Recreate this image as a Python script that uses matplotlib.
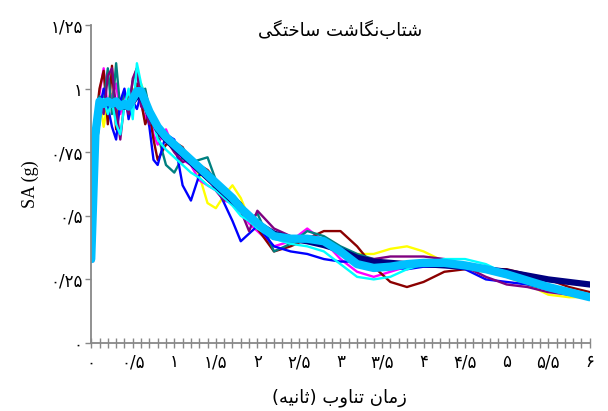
import matplotlib
matplotlib.use("Agg")
import matplotlib.pyplot as plt
from matplotlib.ticker import MultipleLocator, FixedLocator

# ---------------- data ----------------
period = [0, 0.05, 0.1, 0.15, 0.2, 0.25, 0.3, 0.35, 0.4, 0.45, 0.5, 0.55, 0.6, 0.65, 0.7, 0.75, 0.8,
          0.9, 1.0, 1.1, 1.2, 1.3, 1.4, 1.5, 1.6, 1.7, 1.8, 1.9, 2.0,
          2.2, 2.4, 2.6, 2.8, 3.0, 3.2, 3.4, 3.6, 3.8, 4.0,
          4.25, 4.5, 4.75, 5.0, 5.25, 5.5, 5.75, 6.0]

rec_yellow = [0.33, 0.78, 0.96, 0.85, 0.95, 0.98, 0.90, 0.96, 0.92, 0.97, 1.00, 0.96, 1.02, 0.97, 0.93, 0.90, 0.86,
              0.80, 0.79, 0.74, 0.72, 0.66, 0.55, 0.53, 0.58, 0.62, 0.57, 0.49, 0.47,
              0.42, 0.42, 0.41, 0.38, 0.36, 0.35, 0.35, 0.37, 0.38, 0.36,
              0.32, 0.29, 0.28, 0.26, 0.23, 0.19, 0.18, 0.18]
rec_magenta = [0.33, 0.85, 0.98, 1.08, 0.92, 0.97, 1.02, 0.90, 0.98, 0.95, 0.91, 1.00, 0.94, 0.88, 0.92, 0.82, 0.78,
               0.84, 0.76, 0.72, 0.70, 0.64, 0.62, 0.60, 0.56, 0.55, 0.52, 0.47, 0.44,
               0.38, 0.40, 0.45, 0.40, 0.33, 0.28, 0.26, 0.28, 0.30, 0.32,
               0.32, 0.30, 0.29, 0.27, 0.24, 0.21, 0.19, 0.18]
rec_maroon = [0.33, 0.86, 1.00, 1.07, 0.86, 1.09, 0.84, 0.96, 0.93, 0.98, 0.92, 1.02, 0.95, 0.86, 0.90, 0.80, 0.72,
              0.78, 0.79, 0.77, 0.71, 0.70, 0.68, 0.64, 0.60, 0.58, 0.55, 0.50, 0.45,
              0.36, 0.38, 0.41, 0.44, 0.44, 0.38, 0.30, 0.24, 0.22, 0.24,
              0.28, 0.29, 0.29, 0.29, 0.27, 0.25, 0.22, 0.20]
rec_teal = [0.33, 0.88, 0.97, 0.95, 1.08, 0.90, 1.10, 0.92, 0.99, 0.93, 1.03, 1.08, 0.97, 1.00, 0.92, 0.86, 0.82,
            0.70, 0.67, 0.73, 0.71, 0.72, 0.73, 0.64, 0.58, 0.55, 0.52, 0.48, 0.51,
            0.36, 0.39, 0.44, 0.42, 0.38, 0.35, 0.33, 0.31, 0.31, 0.31,
            0.31, 0.30, 0.29, 0.27, 0.24, 0.21, 0.19, 0.18]
rec_blue = [0.33, 0.90, 0.92, 1.00, 0.93, 0.85, 0.80, 0.95, 1.00, 0.88, 0.95, 0.92, 0.98, 0.94, 0.85, 0.72, 0.70,
            0.82, 0.80, 0.62, 0.56, 0.66, 0.67, 0.62, 0.55, 0.48, 0.40, 0.43, 0.46,
            0.38, 0.36, 0.35, 0.33, 0.32, 0.32, 0.32, 0.30, 0.29, 0.30,
            0.30, 0.29, 0.25, 0.24, 0.23, 0.21, 0.19, 0.18]
rec_purple = [0.33, 0.86, 0.95, 0.90, 1.05, 1.08, 0.92, 0.80, 0.95, 0.90, 1.04, 1.08, 0.93, 0.92, 0.86, 0.88, 0.82,
              0.80, 0.75, 0.71, 0.73, 0.68, 0.66, 0.60, 0.56, 0.58, 0.52, 0.44, 0.52,
              0.45, 0.42, 0.40, 0.39, 0.36, 0.34, 0.33, 0.34, 0.34, 0.34,
              0.33, 0.30, 0.26, 0.23, 0.22, 0.20, 0.19, 0.18]
rec_cyan = [0.33, 0.85, 0.92, 0.96, 0.90, 0.95, 0.86, 0.82, 0.93, 1.00, 0.88, 1.10, 1.02, 0.97, 0.90, 0.87, 0.80,
            0.76, 0.73, 0.70, 0.67, 0.65, 0.62, 0.60, 0.57, 0.54, 0.50, 0.48, 0.45,
            0.41, 0.39, 0.38, 0.36, 0.31, 0.26, 0.25, 0.26, 0.29, 0.31,
            0.33, 0.33, 0.31, 0.27, 0.24, 0.21, 0.19, 0.18]
target = [0.33, 0.80, 0.94, 0.94, 0.94, 0.94, 0.94, 0.93, 0.93, 0.93, 0.95, 0.97, 0.97, 0.94, 0.90, 0.87, 0.84,
          0.80, 0.77, 0.74, 0.71, 0.68, 0.65, 0.62, 0.59, 0.56, 0.53, 0.50, 0.47,
          0.43, 0.41, 0.40, 0.385, 0.365, 0.335, 0.32, 0.315, 0.31, 0.31,
          0.305, 0.30, 0.29, 0.28, 0.265, 0.25, 0.24, 0.23]
mean_sa = [0.33, 0.82, 0.95, 0.94, 0.95, 0.94, 0.95, 0.93, 0.94, 0.93, 0.96, 0.99, 0.99, 0.95, 0.91, 0.88, 0.85,
           0.81, 0.78, 0.75, 0.72, 0.69, 0.66, 0.63, 0.60, 0.57, 0.53, 0.50, 0.47,
           0.42, 0.41, 0.41, 0.40, 0.36, 0.31, 0.295, 0.30, 0.31, 0.315,
           0.315, 0.305, 0.29, 0.27, 0.245, 0.22, 0.20, 0.18]

x_ticks = [0, 0.5, 1, 1.5, 2, 2.5, 3, 3.5, 4, 4.5, 5, 5.5, 6]
y_ticks = [0, 0.25, 0.5, 0.75, 1, 1.25]

title_text = "شتاب\u200cنگاشت ساختگی"
xlabel_text = "زمان تناوب (ثانیه)"
ylabel_text = "SA (g)"

# ---------------- Arabic shaping helper ----------------
FORMS = {  # isolated, final, initial, medial
    "ا": ("\uFE8D", "\uFE8E", None, None),
    "ب": ("\uFE8F", "\uFE90", "\uFE91", "\uFE92"),
    "ت": ("\uFE95", "\uFE96", "\uFE97", "\uFE98"),
    "ث": ("\uFE99", "\uFE9A", "\uFE9B", "\uFE9C"),
    "خ": ("\uFEA5", "\uFEA6", "\uFEA7", "\uFEA8"),
    "ز": ("\uFEAF", "\uFEB0", None, None),
    "س": ("\uFEB1", "\uFEB2", "\uFEB3", "\uFEB4"),
    "ش": ("\uFEB5", "\uFEB6", "\uFEB7", "\uFEB8"),
    "م": ("\uFEE1", "\uFEE2", "\uFEE3", "\uFEE4"),
    "ن": ("\uFEE5", "\uFEE6", "\uFEE7", "\uFEE8"),
    "ه": ("\uFEE9", "\uFEEA", "\uFEEB", "\uFEEC"),
    "و": ("\uFEED", "\uFEEE", None, None),
    "ی": ("\uFBFC", "\uFBFD", "\uFBFE", "\uFBFF"),
    "گ": ("\uFB92", "\uFB93", "\uFB94", "\uFB95"),
}


def shape(text):
    out = []
    n = len(text)
    for i, ch in enumerate(text):
        if ch not in FORMS:
            if ch == "\u200c":
                continue
            out.append({"(": ")", ")": "("}.get(ch, ch))
            continue
        iso, fin, ini, med = FORMS[ch]
        prev = text[i - 1] if i > 0 else ""
        nxt = text[i + 1] if i + 1 < n else ""
        join_prev = prev in FORMS and FORMS[prev][2] is not None
        join_next = ini is not None and nxt in FORMS
        if join_prev and join_next:
            out.append(med)
        elif join_prev:
            out.append(fin)
        elif join_next:
            out.append(ini)
        else:
            out.append(iso)
    return "".join(reversed(out))


def fa_num(v):
    s = ("%g" % v).replace(".", "/")
    return s.translate(str.maketrans("0123456789", "۰۱۲۳۴۵۶۷۸۹"))


# ---------------- plot ----------------
fig = plt.figure(figsize=(6.08, 4.11), dpi=100)
ax = fig.add_axes([0.150, 0.1655, 0.820, 0.7735])

series = [
    (rec_yellow, "#FFFF00"),
    (rec_magenta, "#FF00FF"),
    (rec_maroon, "#8B0000"),
    (rec_teal, "#008080"),
    (rec_blue, "#0000FF"),
    (rec_purple, "#800080"),
    (rec_cyan, "#00FFFF"),
]
for vals, col in series:
    ax.plot(period, vals, color=col, lw=1.7, solid_joinstyle="round", solid_capstyle="round")
ax.plot(period, target, color="#000080", lw=4.5, solid_joinstyle="round")
ax.plot(period, mean_sa, color="#00BFFF", lw=6.0, solid_joinstyle="round", solid_capstyle="round")

ax.set_xlim(0, 6)
ax.set_ylim(0, 1.25)
for s in ("top", "right"):
    ax.spines[s].set_visible(False)
for s in ("left", "bottom"):
    ax.spines[s].set_color("#888888")
    ax.spines[s].set_linewidth(1.3)

ax.xaxis.set_major_locator(FixedLocator(x_ticks))
ax.xaxis.set_minor_locator(MultipleLocator(0.1))
ax.set_xticklabels([fa_num(v) for v in x_ticks])
ax.yaxis.set_major_locator(FixedLocator(y_ticks))
ax.set_yticklabels([fa_num(v) for v in y_ticks])

ax.tick_params(axis="x", which="both", direction="inout", length=7, width=1.0, color="#888888",
               labelsize=12, pad=4)
ax.tick_params(axis="y", which="major", direction="out", length=4, width=1.0, color="#888888",
               labelsize=12, pad=2)
for lab in ax.get_xticklabels() + ax.get_yticklabels():
    lab.set_family("DejaVu Sans")

ax.set_ylabel(ylabel_text, family="Liberation Serif", fontsize=13, labelpad=8)
fig.text(0.559, 1 - 398 / 411, shape(xlabel_text), ha="center", va="center",
         family="DejaVu Sans", fontsize=13)
fig.text(0.559, 1 - 30 / 411, shape(title_text), ha="center", va="center",
         family="DejaVu Sans", fontsize=13)

fig.savefig("out.png", dpi=100)
